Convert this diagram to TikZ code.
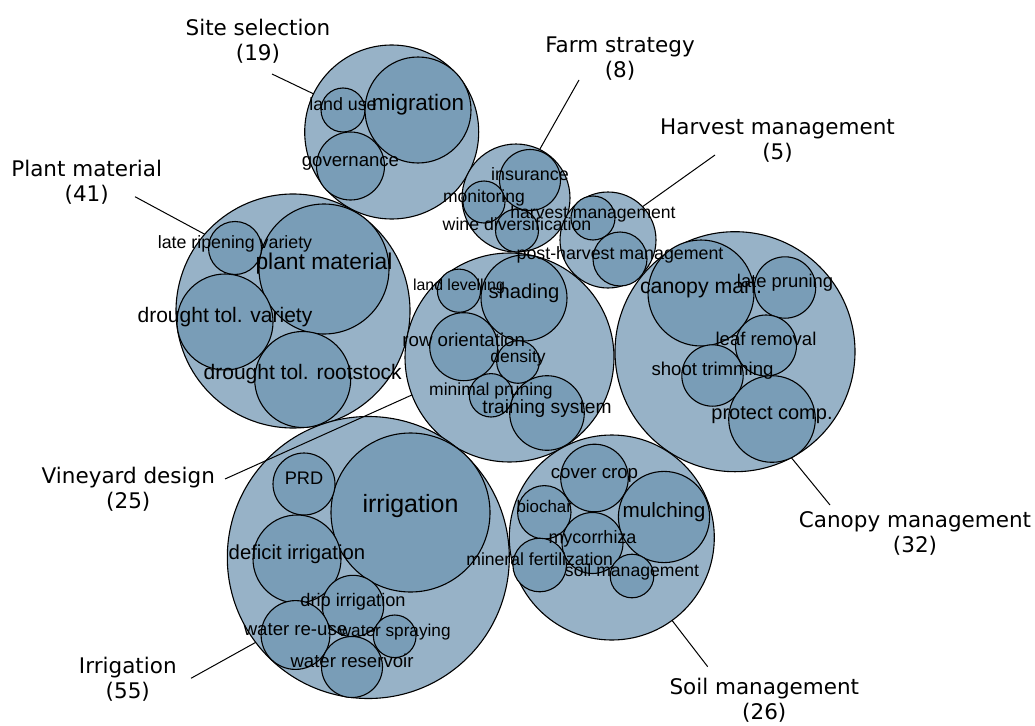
\documentclass[tikz,border=0pt]{standalone}
\usepackage{fontspec}
\setmainfont{DejaVu Sans}
\newfontfamily\topicfont{Liberation Sans}
\definecolor{groupblue}{RGB}{151,178,199}
\definecolor{topicblue}{RGB}{121,157,183}
\tikzset{
  bubble/.style={
    circle,
    draw=black,
    line width=1.1pt,
    inner sep=0pt,
    outer sep=0pt
  },
  group-bubble/.style={bubble, fill=groupblue},
  topic-bubble/.style={bubble, fill=topicblue},
  rad/.style={minimum size={2*#1}},
  group-label/.style={align=center, inner sep=0pt, font=\fontsize{21.5}{25}\selectfont},
  topic-label/.style={anchor=base, inner sep=0pt, font=\topicfont\fontsize{#1}{#1}\selectfont},
  leader/.style={draw=black, line width=1pt}
}

\begin{document}
\begin{tikzpicture}[x=1pt,y=-1pt]
  \useasboundingbox (0,0) rectangle (1035,725);

  % Site selection
  \node[group-bubble, rad=87] (site) at (391.7,132) {};
  \node[topic-bubble, rad=22] (landuse) at (343,110) {};
  \node[topic-bubble, rad=53] (migration) at (418,110) {};
  \node[topic-bubble, rad=34] (governance) at (350.5,166) {};

  % Farm strategy
  \node[group-bubble, rad=54] (farm) at (516,198) {};
  \node[topic-bubble, rad=30.5] (insurance) at (530,180) {};
  \node[topic-bubble, rad=21] (monitoring) at (484,202) {};
  \node[topic-bubble, rad=21.5] (winediv) at (517,230.5) {};

  % Harvest management
  \node[group-bubble, rad=48] (harvest) at (608,240) {};
  \node[topic-bubble, rad=22] (harvmgmt) at (593,218) {};
  \node[topic-bubble, rad=27] (postharv) at (620,259) {};

  % Plant material
  \node[group-bubble, rad=117] (plant) at (293,311) {};
  \node[topic-bubble, rad=65] (plantmat) at (324,269) {};
  \node[topic-bubble, rad=26.5] (lateripe) at (235,248) {};
  \node[topic-bubble, rad=48] (dtvariety) at (225,322) {};
  \node[topic-bubble, rad=48] (dtroot) at (302.7,379.5) {};

  % Vineyard design
  \node[group-bubble, rad=104.5] (vine) at (509.5,357.5) {};
  \node[topic-bubble, rad=43] (shading) at (524,298) {};
  \node[topic-bubble, rad=21.6] (levelling) at (459,290.7) {};
  \node[topic-bubble, rad=34] (roworient) at (463.7,346.7) {};
  \node[topic-bubble, rad=21.3] (density) at (518,362) {};
  \node[topic-bubble, rad=21.7] (minprune) at (491,395.3) {};
  \node[topic-bubble, rad=37.3] (training) at (547,413) {};

  % Canopy management
  \node[group-bubble, rad=120] (canopy) at (735,351.7) {};
  \node[topic-bubble, rad=53] (canopyman) at (701,293) {};
  \node[topic-bubble, rad=30.7] (latepruning) at (785,287.5) {};
  \node[topic-bubble, rad=30.5] (leafremoval) at (766,345.5) {};
  \node[topic-bubble, rad=30.7] (shoottrim) at (712.5,375.5) {};
  \node[topic-bubble, rad=43.3] (protect) at (772,419) {};

  % Irrigation
  \node[group-bubble, rad=141] (irrig) at (368.3,557.5) {};
  \node[topic-bubble, rad=79.5] (irrigation) at (410.5,512.5) {};
  \node[topic-bubble, rad=31] (prd) at (304,484) {};
  \node[topic-bubble, rad=44] (deficit) at (297,559) {};
  \node[topic-bubble, rad=30.7] (drip) at (353,606) {};
  \node[topic-bubble, rad=34.4] (reuse) at (295.5,635) {};
  \node[topic-bubble, rad=21.3] (spraying) at (394.7,636.3) {};
  \node[topic-bubble, rad=30.5] (reservoir) at (352,667) {};

  % Soil management
  \node[group-bubble, rad=102.5] (soil) at (611.8,537.5) {};
  \node[topic-bubble, rad=33.8] (covercrop) at (594.5,478) {};
  \node[topic-bubble, rad=45.6] (mulching) at (664,517) {};
  \node[topic-bubble, rad=26.7] (biochar) at (544.3,512.3) {};
  \node[topic-bubble, rad=30.5] (mycorrhiza) at (592.5,543) {};
  \node[topic-bubble, rad=26.8] (mineral) at (539.7,565) {};
  \node[topic-bubble, rad=21.8] (soilmgmt) at (632,576) {};

  % topic names, on top of all bubbles
  \foreach \n/\t/\s in {
    landuse/land use/17.8, migration/migration/22.4, governance/governance/18.6,
    insurance/insurance/17.9, monitoring/monitoring/17.5, winediv/wine diversification/17.7,
    harvmgmt/harvest management/17.6, postharv/post-harvest management/17.8,
    plantmat/plant material/22.8, lateripe/late ripening variety/17.8,
    dtvariety/drought tol. variety/21, dtroot/drought tol. rootstock/21,
    shading/shading/20.2, levelling/land levelling/15.9, roworient/row orientation/18.7,
    density/density/17.4, minprune/minimal pruning/17.5, training/training system/19.2,
    canopyman/canopy man./21.3, latepruning/late pruning/18.4, leafremoval/leaf removal/18.5,
    shoottrim/shoot trimming/18.6, protect/protect comp./20,
    irrigation/irrigation/25, prd/PRD/18.2, deficit/deficit irrigation/20.3,
    drip/drip irrigation/18.2, reuse/water re-use/18.6, spraying/water spraying/17.2,
    reservoir/water reservoir/18.6,
    covercrop/cover crop/18.7, mulching/mulching/20.7, biochar/biochar/16.9,
    mycorrhiza/mycorrhiza/18, mineral/mineral fertilization/17.6, soilmgmt/soil management/17.6}
    \node[topic-label=\s] at (\n) {\t};

  % group names and leaders
  \node[group-label] (site-lbl) at (258,41) {Site selection\\(19)};
  \node[group-label] (farm-lbl) at (620,58.5) {Farm strategy\\(8)};
  \node[group-label] (harvest-lbl) at (777.5,141) {Harvest management\\(5)};
  \node[group-label] (plant-lbl) at (86.7,182.5) {Plant material\\(41)};
  \node[group-label] (vine-lbl) at (128.3,489) {Vineyard design\\(25)};
  \node[group-label] (irrig-lbl) at (127.8,679) {Irrigation\\(55)};
  \node[group-label] (canopy-lbl) at (915,533.5) {Canopy management\\(32)};
  \node[group-label] (soil-lbl) at (764.3,700) {Soil management\\(26)};

  \coordinate (site-tip) at (272,74);
  \coordinate (farm-tip) at (579,80);
  \coordinate (harvest-tip) at (715,155);
  \coordinate (plant-tip) at (135,196.7);
  \coordinate (vine-tip) at (225,479);
  \coordinate (irrig-tip) at (191,678.3);
  \coordinate (canopy-tip) at (830,505);
  \coordinate (soil-tip) at (707.7,666.7);

  \draw[leader] (site-tip) -- (site.154.3);
  \draw[leader] (farm-tip) -- (farm.64.4);
  \draw[leader] (harvest-tip) -- (harvest.44);
  \draw[leader] (plant-tip) -- (plant.139.1);
  \draw[leader] (vine-tip) -- (vine.-159);
  \draw[leader] (irrig-tip) -- (irrig.-143.3);
  \draw[leader] (canopy-tip) -- (canopy.-62.2);
  \draw[leader] (soil-tip) -- (soil.-54.7);
\end{tikzpicture}
\end{document}
